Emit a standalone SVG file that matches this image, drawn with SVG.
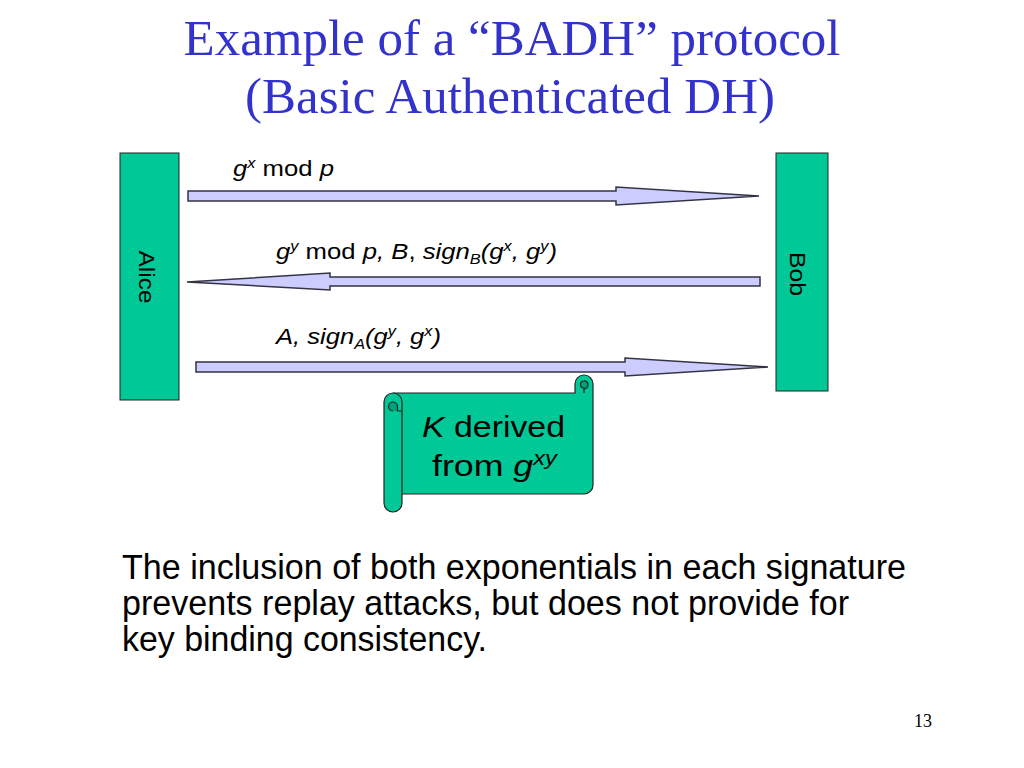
<svg xmlns="http://www.w3.org/2000/svg" width="1024" height="768" viewBox="0 0 1024 768">
<style>
.party{fill:#00C896;stroke:#222;stroke-width:1}
.arrow{fill:#CCCCFF;stroke:#333344;stroke-width:1.5;stroke-linejoin:miter}
.lbl{font-family:"Liberation Sans",Arial,sans-serif;font-size:22px;fill:#000}
.it{font-style:italic}
.sup{font-size:14px}
.title{font-family:"Liberation Serif","Times New Roman",serif;font-size:50px;fill:#3333CC}
.body{font-family:"Liberation Sans",Arial,sans-serif;font-size:35px;fill:#000}
.scroll{fill:#00C896;stroke:#222;stroke-width:1.2}
.curl{fill:#00A078;stroke:#222;stroke-width:1.2}
.stxt{font-family:"Liberation Sans",Arial,sans-serif;font-size:30px;fill:#000}
</style>
<rect width="1024" height="768" fill="#fff"/>
<g id="title">
<text class="title" x="512" y="55" text-anchor="middle" textLength="657" lengthAdjust="spacingAndGlyphs">Example of a “BADH” protocol</text>
<text class="title" x="510" y="113" text-anchor="middle" textLength="530" lengthAdjust="spacingAndGlyphs">(Basic Authenticated DH)</text>
</g>
<g id="alice">
<rect class="party" x="120" y="153" width="59" height="247"/>
<text class="lbl" transform="translate(139,277) rotate(90)" text-anchor="middle" textLength="53" lengthAdjust="spacingAndGlyphs">Alice</text>
</g>
<g id="bob">
<rect class="party" x="776" y="153" width="52" height="238"/>
<text class="lbl" transform="translate(790,274) rotate(90)" text-anchor="middle" textLength="44" lengthAdjust="spacingAndGlyphs">Bob</text>
</g>
<g id="connectors">
<polygon class="arrow" points="188,191 616,191 616,187 759,196 616,205 616,201 188,201"/>
<polygon class="arrow" points="760,277 330,277 330,273 187,282 330,290 330,286 760,286"/>
<polygon class="arrow" points="196,362 625,362 625,358 768,367 625,376 625,372 196,372"/>
</g>
<g id="labels">
<text class="lbl" x="233" y="176" textLength="101" lengthAdjust="spacingAndGlyphs"><tspan class="it">g</tspan><tspan class="it sup" dy="-8">x</tspan><tspan dy="8"> mod </tspan><tspan class="it">p</tspan></text>
<text class="lbl" x="276" y="259" textLength="281" lengthAdjust="spacingAndGlyphs"><tspan class="it">g</tspan><tspan class="it sup" dy="-8">y</tspan><tspan dy="8"> mod </tspan><tspan class="it">p, B</tspan><tspan>, </tspan><tspan class="it">sign</tspan><tspan class="it sup" dy="5">B</tspan><tspan class="it" dy="-5">(g</tspan><tspan class="it sup" dy="-8">x</tspan><tspan class="it" dy="8">, g</tspan><tspan class="it sup" dy="-8">y</tspan><tspan class="it" dy="8">)</tspan></text>
<text class="lbl" x="276" y="344" textLength="165" lengthAdjust="spacingAndGlyphs"><tspan class="it">A, sign</tspan><tspan class="it sup" dy="5">A</tspan><tspan class="it" dy="-5">(g</tspan><tspan class="it sup" dy="-8">y</tspan><tspan class="it" dy="8">, g</tspan><tspan class="it sup" dy="-8">x</tspan><tspan class="it" dy="8">)</tspan></text>
</g>
<g id="scroll">
<path class="scroll" d="M393,393 L575,393 L575,384 A9,9 0 0 1 593,384 L593,485 A9,9 0 0 1 584,494 L402,494"/>
<path class="curl" d="M584,393 L584,388 A3.5,3.5 0 0 1 584,381 A3.5,3.5 0 0 1 588,385 A4,4 0 0 1 584,389"/>
<path class="scroll" d="M384,402 A9,9 0 0 1 402,402 L402,503 A9,9 0 0 1 384,503 Z"/>
<path class="curl" d="M393,411 A4.5,4.5 0 0 1 393,402 A4.5,4.5 0 0 1 397.5,406.5 L397.5,411"/>
<path d="M402,411 L397.5,411" fill="none" stroke="#222" stroke-width="1"/>
<text class="stxt" x="422" y="437" textLength="143" lengthAdjust="spacingAndGlyphs"><tspan class="it">K</tspan> derived</text>
<text class="stxt" x="432" y="476" textLength="125" lengthAdjust="spacingAndGlyphs">from <tspan class="it">g</tspan><tspan class="it" style="font-size:20px" dy="-11">xy</tspan></text>
</g>
<g id="note">
<text class="body" x="122" y="579" textLength="784" lengthAdjust="spacingAndGlyphs">The inclusion of both exponentials in each signature</text>
<text class="body" x="122" y="615" textLength="727" lengthAdjust="spacingAndGlyphs">prevents replay attacks, but does not provide for</text>
<text class="body" x="122" y="651" textLength="365" lengthAdjust="spacingAndGlyphs">key binding consistency.</text>
</g>
<text x="932" y="727" text-anchor="end" font-family="'Liberation Serif','Times New Roman',serif" font-size="18" fill="#000">13</text>
</svg>
